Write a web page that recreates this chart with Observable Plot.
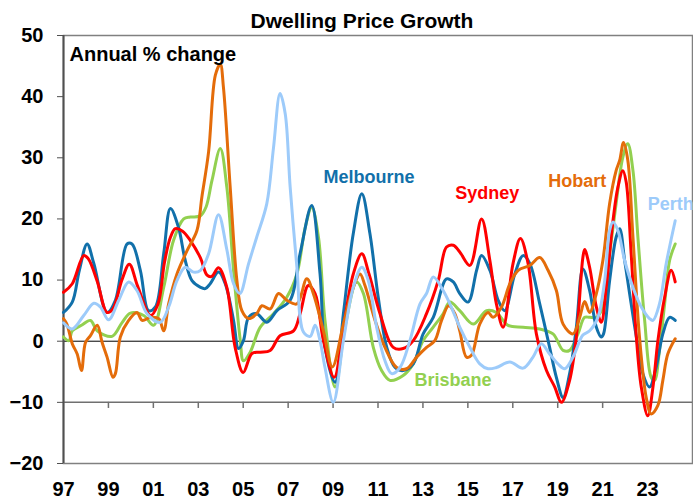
<!DOCTYPE html>
<html>
<head>
<meta charset="utf-8">
<script src="https://cdn.jsdelivr.net/npm/d3@7"></script>
<script src="https://cdn.jsdelivr.net/npm/@observablehq/plot@0.6"></script>
<style>
  html, body { margin: 0; padding: 0; background: #fff; }
  #title { width: 693px; height: 30px; box-sizing: border-box; padding-left: 31px; padding-top: 11px;
           text-align: center; font: bold 21px "Liberation Sans", Arial, sans-serif; line-height: 20px; color: #000; }
  #chart svg { display: block; }
</style>
</head>
<body>
<div id="title">Dwelling Price Growth</div>
<div id="chart"></div>
<script>
// ---- data: [decimal year, annual % change] ----
const sydney = [[1997.0,8.0],[1997.39,9.4],[1997.9,14.0],[1998.1,13.5],[1998.5,9.8],[1998.94,4.7],[1999.2,5.3],[1999.6,10.0],[1999.93,12.6],[2000.3,9.0],[2000.87,4.2],[2001.2,6.0],[2001.5,13.0],[2001.76,17.0],[2001.98,18.4],[2002.3,18.0],[2002.64,16.5],[2003.1,13.6],[2003.39,10.8],[2003.6,10.6],[2003.9,12.0],[2004.27,8.8],[2004.64,-1.0],[2005.0,-5.1],[2005.39,-2.0],[2005.76,-1.8],[2006.2,-1.5],[2006.64,0.9],[2007.24,1.7],[2007.53,4.5],[2007.9,9.1],[2008.2,7.8],[2008.57,0.1],[2009.05,-5.9],[2009.46,2.3],[2009.9,11.0],[2010.28,14.3],[2010.6,11.0],[2011.09,4.5],[2011.68,-1.0],[2012.12,-1.2],[2012.57,0.1],[2013.16,4.5],[2013.68,9.9],[2014.05,15.4],[2014.35,15.7],[2014.64,14.6],[2015.09,12.4],[2015.61,20.0],[2015.98,13.2],[2016.27,6.1],[2016.57,2.3],[2017.01,12.7],[2017.34,16.8],[2017.68,12.7],[2018.05,1.2],[2018.5,-4.8],[2018.87,-7.5],[2019.16,-10.0],[2019.53,-6.4],[2019.83,0.7],[2020.12,13.7],[2020.2,15.0],[2020.42,12.1],[2020.72,5.6],[2020.94,3.1],[2021.16,8.8],[2021.46,19.7],[2021.68,25.2],[2021.9,27.9],[2022.05,26.0],[2022.27,14.3],[2022.5,0.7],[2022.72,-7.5],[2023.01,-12.2],[2023.24,-7.5],[2023.46,0.1],[2023.76,7.2],[2024.05,11.6],[2024.23,9.7]];

const melbourne = [[1997.0,4.7],[1997.39,6.4],[1997.7,11.5],[1998.05,15.9],[1998.35,12.7],[1998.94,4.7],[1999.31,6.7],[1999.83,15.9],[2000.05,15.9],[2000.42,11.6],[2000.79,5.0],[2001.09,5.6],[2001.46,14.3],[2001.76,21.7],[2002.12,18.6],[2002.42,13.2],[2002.72,9.9],[2003.1,8.8],[2003.31,8.6],[2003.53,9.4],[2003.9,11.3],[2004.2,9.4],[2004.57,3.4],[2004.79,-1.2],[2005.01,0.1],[2005.24,3.9],[2005.6,4.5],[2006.05,3.1],[2006.5,5.0],[2007.09,6.7],[2007.53,14.3],[2008.05,22.2],[2008.42,11.0],[2008.64,-1.0],[2009.09,-6.7],[2009.46,4.5],[2009.9,17.6],[2010.28,24.1],[2010.64,17.6],[2011.01,7.2],[2011.39,-1.0],[2011.76,-4.3],[2012.12,-4.8],[2012.57,-3.7],[2013.01,1.2],[2013.46,3.9],[2014.05,10.2],[2014.35,9.7],[2014.64,7.8],[2015.01,6.4],[2015.39,11.6],[2015.61,14.0],[2015.98,11.6],[2016.35,6.7],[2016.64,5.0],[2017.09,11.0],[2017.46,14.0],[2017.76,12.7],[2018.2,6.1],[2018.64,-1.0],[2018.94,-5.9],[2019.24,-9.2],[2019.53,-5.3],[2019.83,2.3],[2020.12,11.8],[2020.42,8.3],[2020.72,2.3],[2020.94,0.7],[2021.04,1.2],[2021.31,9.9],[2021.6,17.0],[2021.76,18.4],[2021.98,13.2],[2022.2,7.8],[2022.5,0.7],[2022.79,-5.3],[2023.09,-7.5],[2023.38,-4.3],[2023.68,1.2],[2023.98,3.9],[2024.23,3.4]];

const brisbane = [[1997.0,0.7],[1997.24,0.1],[1997.39,1.7],[1997.8,2.6],[1998.2,3.4],[1998.5,1.7],[1999.16,0.8],[1999.6,3.0],[1999.98,4.6],[2000.57,4.2],[2001.01,2.6],[2001.46,8.8],[2001.9,16.5],[2002.35,20.0],[2002.64,20.3],[2003.09,20.5],[2003.35,22.0],[2003.61,26.3],[2003.98,31.5],[2004.27,25.2],[2004.57,11.6],[2004.87,0.1],[2005.01,-3.2],[2005.31,-1.8],[2005.76,2.3],[2006.35,4.5],[2006.94,7.2],[2007.39,11.0],[2007.76,18.6],[2008.05,21.9],[2008.35,17.0],[2008.64,3.4],[2009.09,-7.5],[2009.53,2.3],[2010.05,9.7],[2010.35,7.8],[2010.79,-1.0],[2011.16,-4.8],[2011.53,-6.4],[2012.12,-5.6],[2012.57,-3.7],[2013.01,0.1],[2013.46,2.3],[2013.9,4.5],[2014.2,6.4],[2014.64,5.0],[2015.24,2.8],[2015.83,5.0],[2016.27,4.7],[2016.79,2.6],[2017.46,2.3],[2018.2,2.0],[2018.79,1.2],[2019.24,-1.5],[2019.53,-1.5],[2019.9,1.2],[2020.2,3.9],[2020.42,3.9],[2020.72,3.9],[2021.01,5.6],[2021.31,14.3],[2021.6,22.5],[2021.9,30.1],[2022.12,32.3],[2022.35,27.9],[2022.57,17.0],[2022.87,3.4],[2023.16,-5.9],[2023.31,-6.4],[2023.53,-1.5],[2023.76,6.1],[2023.98,13.2],[2024.23,15.9]];

const hobart = [[1997.0,3.7],[1997.15,2.8],[1997.39,-0.4],[1997.61,-2.1],[1997.8,-4.8],[1997.98,-0.2],[1998.2,0.9],[1998.5,2.6],[1998.72,-0.2],[1998.94,-2.6],[1999.2,-5.9],[1999.31,-5.3],[1999.53,0.7],[1999.9,3.4],[2000.27,4.7],[2000.5,3.4],[2000.87,3.9],[2001.24,3.7],[2001.46,1.7],[2001.68,6.1],[2002.05,11.0],[2002.5,14.8],[2002.94,18.1],[2003.16,23.6],[2003.46,31.0],[2003.76,43.5],[2003.98,45.3],[2004.12,41.5],[2004.42,25.2],[2004.72,9.9],[2004.94,5.0],[2005.24,3.7],[2005.6,4.5],[2005.83,5.8],[2006.2,5.3],[2006.57,7.8],[2006.94,6.7],[2007.39,6.1],[2007.83,10.2],[2008.12,7.8],[2008.57,1.7],[2008.97,-4.2],[2009.46,2.8],[2009.9,8.8],[2010.2,11.0],[2010.42,9.1],[2010.87,3.4],[2011.31,-1.0],[2011.83,-4.3],[2012.27,-4.5],[2012.72,-2.6],[2013.16,-1.0],[2013.53,0.1],[2013.83,3.4],[2014.15,5.8],[2014.42,4.5],[2014.64,1.7],[2014.94,-2.6],[2015.16,-2.3],[2015.53,2.8],[2015.9,4.7],[2016.12,3.9],[2016.5,5.6],[2016.87,9.4],[2017.24,11.6],[2017.76,12.4],[2018.2,13.7],[2018.57,11.6],[2018.94,8.3],[2019.24,2.8],[2019.68,1.2],[2019.98,3.9],[2020.2,6.5],[2020.42,4.7],[2020.72,7.8],[2021.01,13.2],[2021.31,22.5],[2021.6,27.9],[2021.76,29.6],[2021.93,32.5],[2022.12,29.6],[2022.35,17.0],[2022.64,0.7],[2022.94,-9.2],[2023.16,-11.9],[2023.46,-10.5],[2023.68,-6.4],[2023.9,-2.1],[2024.23,0.4]];

const perth = [[1997.0,3.0],[1997.39,2.0],[1997.9,4.2],[1998.35,6.2],[1998.64,5.6],[1999.01,3.5],[1999.46,6.7],[1999.9,9.7],[2000.27,8.3],[2000.72,4.5],[2001.31,3.1],[2001.68,5.6],[2002.05,9.9],[2002.42,12.1],[2002.79,11.3],[2003.1,11.6],[2003.46,14.3],[2003.9,20.7],[2004.27,15.0],[2004.57,9.4],[2004.85,7.8],[2005.24,12.7],[2005.6,17.0],[2006.05,22.5],[2006.35,31.7],[2006.64,40.5],[2006.87,37.2],[2007.09,25.2],[2007.39,12.1],[2007.68,1.5],[2007.98,0.8],[2008.2,2.6],[2008.42,0.1],[2008.64,-4.3],[2009.01,-10.0],[2009.46,0.1],[2009.9,8.8],[2010.28,12.1],[2010.57,9.9],[2010.94,2.3],[2011.31,-3.2],[2011.61,-5.3],[2011.98,-4.3],[2012.42,0.1],[2012.87,6.1],[2013.16,7.8],[2013.46,10.5],[2013.9,8.3],[2014.2,6.1],[2014.64,2.3],[2015.09,-1.0],[2015.53,-3.7],[2015.9,-4.5],[2016.27,-4.3],[2016.87,-3.4],[2017.46,-4.4],[2017.9,-2.6],[2018.27,-0.4],[2018.64,-2.1],[2019.01,-3.7],[2019.31,-4.5],[2019.68,-2.6],[2020.12,1.0],[2020.42,1.7],[2020.79,3.9],[2021.09,9.9],[2021.31,18.1],[2021.46,19.5],[2021.68,18.1],[2021.98,13.2],[2022.35,8.8],[2022.72,5.6],[2023.09,3.7],[2023.24,3.4],[2023.53,6.1],[2023.83,12.7],[2024.23,19.7]];

const cityNames = ["Brisbane", "Melbourne", "Sydney", "Hobart", "Perth"];
const cityColours = ["#92D050", "#1170AA", "#FF0000", "#E46C0A", "#9DCBFA"];
const yTicks = [-20, -10, 0, 10, 20, 30, 40, 50];
const xTicks = [1997, 1999, 2001, 2003, 2005, 2007, 2009, 2011, 2013, 2015, 2017, 2019, 2021, 2023];
const xTickMarks = [1999, 2001, 2003, 2005, 2007, 2009, 2011, 2013, 2015, 2017, 2019, 2021, 2023];
const labelNames = ["Melbourne", "Sydney", "Hobart", "Perth", "Brisbane"];
const labelX = [2010.6, 2015.86, 2019.87, 2024.03, 2014.34];
const labelY = [26.8, 24.2, 26.1, 22.4, -6.4];
// -------------------------------------------

const seriesByCity = {Sydney: sydney, Melbourne: melbourne, Brisbane: brisbane, Hobart: hobart, Perth: perth};
const rows = cityNames.flatMap(c => seriesByCity[c].map(([t, v]) => ({city: c, t, v})));
const labels = labelNames.map((c, i) => ({city: c, t: labelX[i], v: labelY[i]}));
const FONT = '"Liberation Sans", Arial, sans-serif';

const chart = Plot.plot({
  width: 693,
  height: 469,
  marginTop: 5,
  marginBottom: 36,
  marginLeft: 63,
  marginRight: 1,
  x: {domain: [1997, 2025]},
  y: {domain: [-20, 50]},
  color: {domain: cityNames, range: cityColours},
  style: {fontFamily: FONT, background: "#fff", overflow: "visible", color: "#000"},
  marks: [
    Plot.frame({stroke: "#808080", strokeWidth: 1.5}),
    Plot.ruleY([-10], {stroke: "#707070", strokeWidth: 1.5}),
    Plot.ruleX(xTickMarks, {y1: -10, y2: -11, stroke: "#707070", strokeWidth: 1.5}),
    Plot.ruleY([0], {stroke: "#000", strokeWidth: 1}),
    Plot.ruleX([1997], {stroke: "#505050", strokeWidth: 2}),
    Plot.axisY(yTicks, {tickSize: 6, tickPadding: 14, fontSize: 20, fontWeight: "bold", label: null, stroke: "#505050"}),
    Plot.axisX(xTicks, {tickSize: 0, tickPadding: 18, fontSize: 20, fontWeight: "bold", label: null,
      tickFormat: d => String(d % 100).padStart(2, "0")}),
    Plot.line(rows, {x: "t", y: "v", z: "city", stroke: "city", strokeWidth: 3,
      curve: "catmull-rom", strokeLinejoin: "round", strokeLinecap: "round"}),
    Plot.text(labels, {x: "t", y: "v", text: "city", fill: "city", fontSize: 18, fontWeight: "bold"}),
    Plot.text(["Annual % change"], {frameAnchor: "top-left", dx: 6, dy: 11, lineAnchor: "top",
      textAnchor: "start", fontSize: 20, fontWeight: "bold", fill: "#000"})
  ]
});
document.getElementById("chart").append(chart);
</script>
</body>
</html>
